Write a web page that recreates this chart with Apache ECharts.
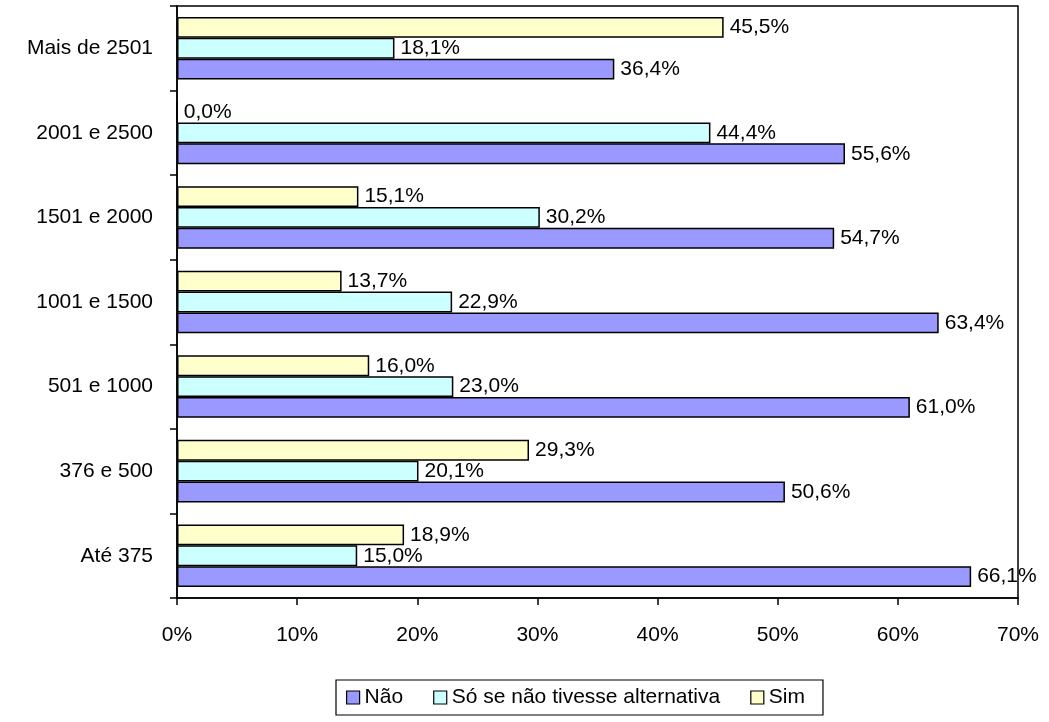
<!DOCTYPE html>
<html>
<head>
<meta charset="utf-8">
<script src="https://cdn.jsdelivr.net/npm/echarts@6/dist/echarts.min.js"></script>
<style>html,body{margin:0;padding:0;background:#fff}#c{width:1049px;height:722px}</style>
</head>
<body>
<div id="c"></div>
<script>
const categories = ['Até 375', '376 e 500', '501 e 1000', '1001 e 1500', '1501 e 2000', '2001 e 2500', 'Mais de 2501'];
const nao = [66.1, 50.6, 61.0, 63.4, 54.7, 55.6, 36.4];
const soSe = [15.0, 20.1, 23.0, 22.9, 30.2, 44.4, 18.1];
const sim = [18.9, 29.3, 16.0, 13.7, 15.1, 0.0, 45.5];
const seriesNames = ['Não', 'Só se não tivesse alternativa', 'Sim'];

const FONT = 'Liberation Sans, Arial, sans-serif';
const FS = 21;
const fmt = p => p.value.toFixed(1).replace('.', ',') + '%';
const label = {show: true, position: 'right', distance: 6, formatter: fmt, color: '#000', fontSize: FS, fontFamily: FONT};
const mk = (name, data, color) => ({
  name, type: 'bar', data, barGap: '0%', barCategoryGap: '26%',
  itemStyle: {color, borderColor: '#000', borderWidth: 1.5},
  label
});

const chart = echarts.init(document.getElementById('c'));
chart.setOption({
  animation: false,
  backgroundColor: '#fff',
  grid: {left: 177, top: 6, width: 841, height: 592, show: true, borderColor: '#000', borderWidth: 1.5, backgroundColor: 'transparent'},
  xAxis: {
    type: 'value', min: 0, max: 70, interval: 10,
    axisLine: {show: true, lineStyle: {color: '#000', width: 1.5}},
    axisTick: {show: true, length: 7, lineStyle: {color: '#000', width: 1.5}},
    splitLine: {show: false},
    axisLabel: {formatter: '{value}%', color: '#000', fontSize: FS, fontFamily: FONT, margin: 27}
  },
  yAxis: {
    type: 'category', data: categories,
    axisLine: {show: true, lineStyle: {color: '#000', width: 1.5}},
    axisTick: {show: true, length: 7, lineStyle: {color: '#000', width: 1.5}},
    axisLabel: {color: '#000', fontSize: FS, fontFamily: FONT, margin: 24}
  },
  legend: {
    data: seriesNames, left: 336, top: 680,
    itemWidth: 13, itemHeight: 13, itemGap: 30,
    padding: [7, 18, 7, 10],
    borderColor: '#000', borderWidth: 1.2,
    icon: 'rect',
    itemStyle: {borderColor: '#000', borderWidth: 1.2},
    textStyle: {color: '#000', fontSize: FS, fontFamily: FONT}
  },
  series: [
    mk(seriesNames[2], sim, '#FFFFCC'),
    mk(seriesNames[1], soSe, '#CCFFFF'),
    mk(seriesNames[0], nao, '#9999FF')
  ]
});
</script>
</body>
</html>
